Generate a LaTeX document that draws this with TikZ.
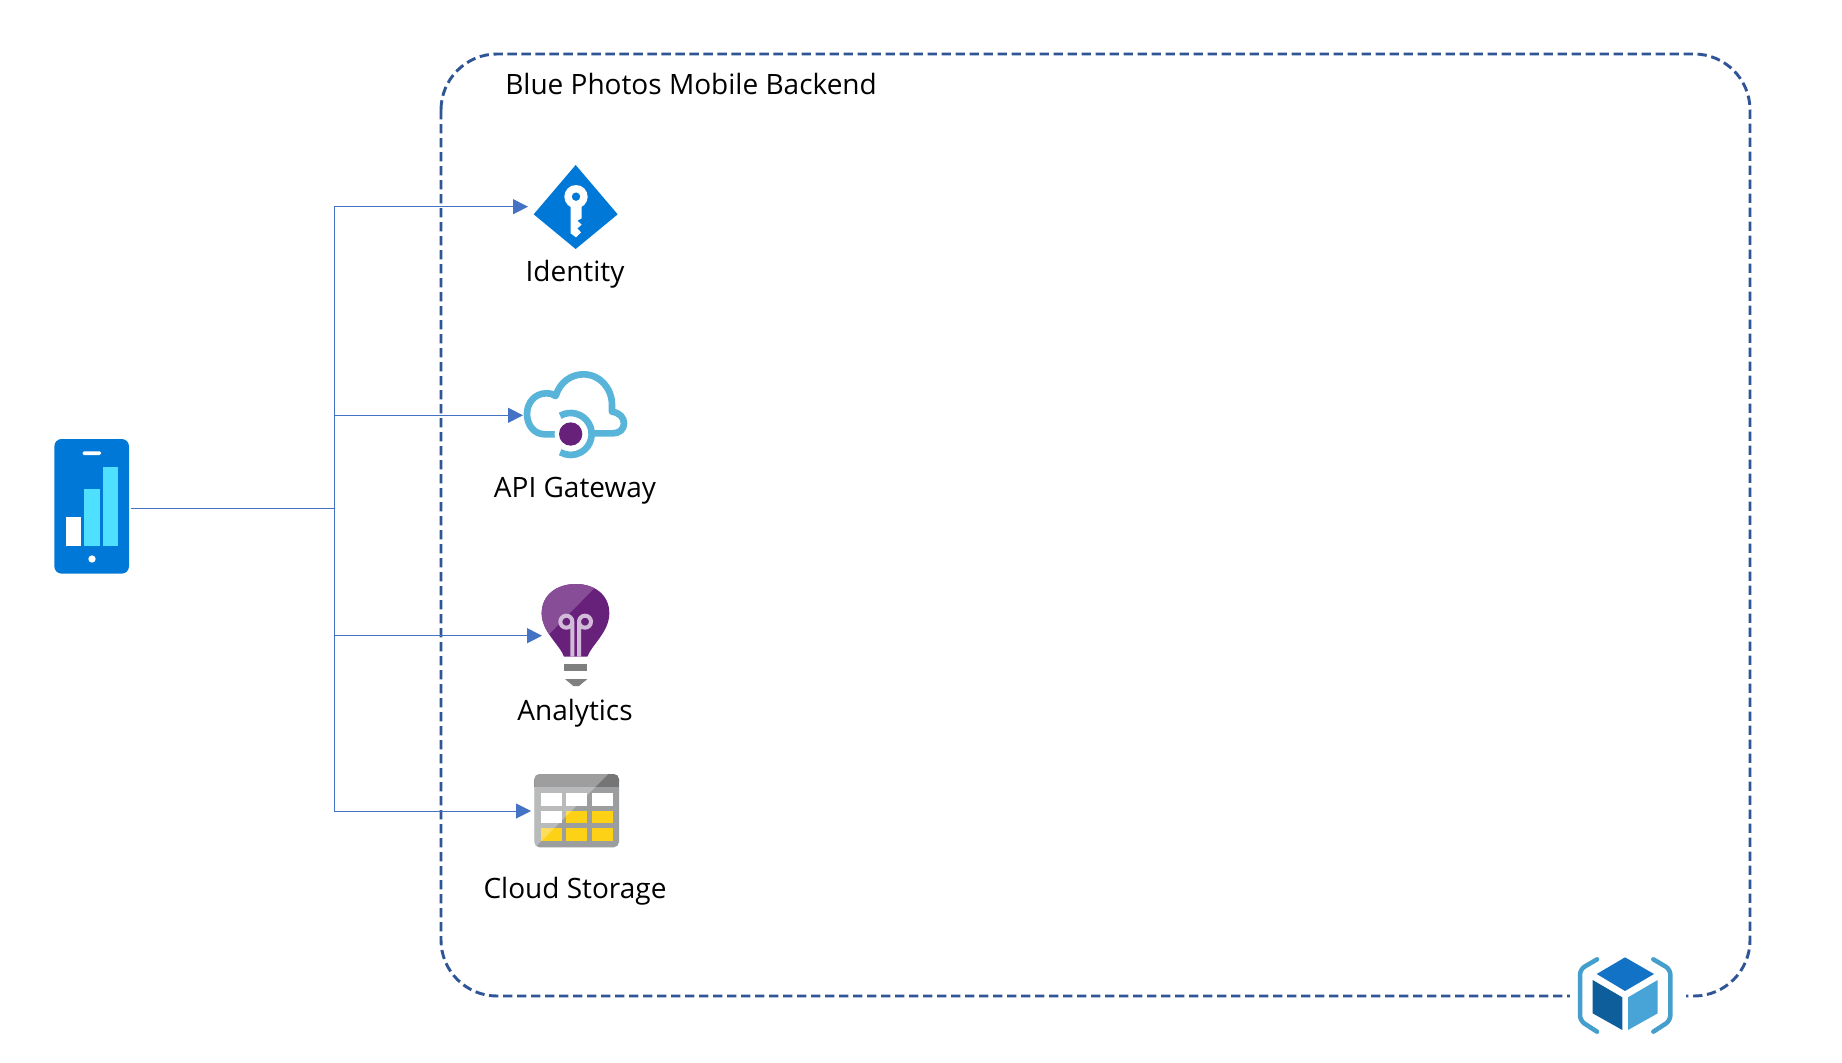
\documentclass[tikz,border=0pt]{standalone}
\usepackage{fontspec}
\setmainfont{Open Sans}
\usetikzlibrary{arrows.meta}
\definecolor{boxblue}{HTML}{2F5597}
\definecolor{linkblue}{HTML}{4472C4}
\definecolor{azure}{HTML}{0078D7}
\definecolor{barcyan}{HTML}{50E0FF}
\definecolor{cloudblue}{HTML}{59B4D9}
\definecolor{purpledark}{HTML}{68217A}
\definecolor{purplelight}{HTML}{874E97}
\definecolor{filament}{HTML}{D2BBD8}
\definecolor{midgrey}{HTML}{7F7F7F}
\definecolor{tablegrey}{HTML}{9C9D9E}
\definecolor{headgrey}{HTML}{757575}
\definecolor{cellyellow}{HTML}{FCD116}
\definecolor{cubetop}{HTML}{1273C6}
\definecolor{cubedark}{HTML}{0F5E9C}
\definecolor{cubelight}{HTML}{48A3D6}
\definecolor{bracket}{HTML}{459FCC}
\tikzset{
  container/.style={draw=boxblue,line width=2.2pt,dash pattern=on 7pt off 3.5pt,rounded corners=42pt},
  link/.style={draw=linkblue,line width=.75pt},
  arrowlink/.style={link,-{Triangle[length=11.25pt,width=11.25pt,fill=linkblue]}},
  anchorbox/.style={inner sep=0pt,outer sep=0pt,minimum width=72pt,minimum height=60pt,anchor=west},
  lbl/.style={inner sep=0pt,font=\fontsize{21pt}{26pt}\selectfont,text=black},
  zoomed/.style={shift={#1},scale=1/3},
}
\begin{document}
\begin{tikzpicture}[x=.75pt,y=.75pt,yscale=-1]
\useasboundingbox[fill=white] (0,0) rectangle (1842,1063);

% container
\draw[container] (441,54) rectangle (1750,996);
\node[fill=white,inner sep=0pt,minimum width=87pt,minimum height=80pt] (cube) at (1628,995) {};
\node[lbl,anchor=west] (title) at (505,83.5) {Blue Photos Mobile Backend};

% anchors for connectors
\node[inner sep=0pt,outer sep=0pt,minimum width=59.25pt,minimum height=103pt] (phone) at (91.5,508) {};
\coordinate (trunk) at (334,508);
\node[anchorbox] (identity) at (528,206.7) {};
\node[anchorbox] (gateway) at (523,415.3) {};
\node[anchorbox] (analytics) at (542,635.7) {};
\node[anchorbox] (storage) at (531,811) {};

% connectors
\draw[link] (phone.east) -- (trunk);
\draw[arrowlink] (trunk) |- (identity.west);
\draw[arrowlink] (trunk) |- (gateway.west);
\draw[arrowlink] (trunk) |- (analytics.west);
\draw[arrowlink] (trunk) |- (storage.west);

% phone
\begin{scope}[zoomed={(30,420)}]
  \fill[azure,rounded corners=5.5pt] (73,57) rectangle (297,461);
  \fill[white,rounded corners=1pt] (158,94) rectangle (213,105);
  \fill[white] (109,292) rectangle (153,377);
  \fill[barcyan] (163,208) rectangle (210,377);
  \fill[barcyan] (220,142) rectangle (264,377);
  \fill[white] (186,417) circle[radius=11];
\end{scope}

% identity
\begin{scope}[zoomed={(500,150)}]
  \fill[azure] (227,45) -- (353,193) -- (227,297) -- (101,193) -- cycle;
  \fill[white,even odd rule] (228,140) circle[radius=35] (228,140) circle[radius=13];
  \fill[white] (212,165) -- (245,165) -- (245,205) -- (232,212) -- (245,224) -- (232,235) -- (243,247) -- (228,262) -- (212,250) -- cycle;
\end{scope}
\node[lbl] (identitylabel) at (575,274) {Identity};

% gateway
\begin{scope}[zoomed={(490,360)}]
  \draw[cloudblue,line width=5pt,line join=round]
    (210,223) -- (165,223) .. controls (132,223) and (111,195) .. (111,162)
    .. controls (111,128) and (135,100) .. (168,100)
    .. controls (180,100) and (190,102) .. (197,108)
    .. controls (210,65) and (245,43) .. (280,43)
    .. controls (330,43) and (366,85) .. (366,135) -- (366,155)
    .. controls (388,158) and (402,172) .. (402,190)
    .. controls (402,208) and (388,220) .. (368,220) -- (310,220);
  \fill[white] (242,222) circle[radius=48];
  \draw[cloudblue,line width=5pt] (210.5,167.4) arc[start angle=-120,end angle=120,radius=63];
  \fill[purpledark] (242,222) circle[radius=35];
\end{scope}
\node[lbl] (gatewaylabel) at (575,491) {API Gateway};

% analytics
\begin{scope}[zoomed={(510,570)}]
  \path[save path=\bulbpath] (162,260) .. controls (150,225) and (95,185) .. (95,130)
    .. controls (95,75) and (140,42) .. (197,42)
    .. controls (255,42) and (298,75) .. (298,130)
    .. controls (298,185) and (245,225) .. (232,260) -- cycle;
  \fill[purpledark,use path=\bulbpath];
  \begin{scope}
    \clip[use path=\bulbpath];
    \fill[purplelight] (80,30) -- (277,30) -- (120,190) -- (80,230) -- cycle;
  \end{scope}
  \draw[filament,line width=3pt] (187,260) -- (187,155) arc[start angle=0,end angle=-360,radius=18];
  \draw[filament,line width=3pt] (207,260) -- (207,155) arc[start angle=180,end angle=540,radius=18];
  \fill[midgrey] (163,282) rectangle (232,303);
  \fill[midgrey] (165,327) -- (232,327) -- (207,348) -- (190,348) -- cycle;
\end{scope}
\node[lbl] (analyticslabel) at (575,713) {Analytics};

% storage
\begin{scope}[zoomed={(500,760)}]
  \fill[tablegrey,rounded corners=4pt] (103,42) rectangle (357,262);
  \fill[headgrey,rounded corners=4pt] (103,42) rectangle (357,80);
  \fill[headgrey] (103,60) rectangle (357,80);
  \foreach \cx/\cy/\cc in {122/100/white,198/100/white,275/100/white,
                           122/152/white,198/152/cellyellow,275/152/cellyellow,
                           122/204/cellyellow,198/204/cellyellow,275/204/cellyellow}{
    \fill[\cc] (\cx,\cy) rectangle ++(64,38);
  }
  \begin{scope}
    \clip[rounded corners=4pt] (103,42) rectangle (357,262);
    \fill[white,opacity=.3] (103,42) -- (325,42) -- (105,262) -- (103,262) -- cycle;
  \end{scope}
\end{scope}
\node[lbl] (storagelabel) at (575,891) {Cloud Storage};

% cube
\begin{scope}[zoomed={(1540,930)}]
  \fill[cubetop] (255,82) -- (342,132) -- (255,183) -- (170,132) -- cycle;
  \fill[cubedark] (158,150) -- (247,202) -- (247,300) -- (158,250) -- cycle;
  \fill[cubelight] (264,202) -- (353,150) -- (353,250) -- (264,300) -- cycle;
  \draw[bracket,line width=3.4pt,line cap=round,line join=round,rounded corners=4pt]
    (171,88) -- (120,118) -- (120,272) -- (171,305);
  \draw[bracket,line width=3.4pt,line cap=round,line join=round,rounded corners=4pt]
    (340,88) -- (391,118) -- (391,272) -- (340,305);
\end{scope}
\end{tikzpicture}
\end{document}
